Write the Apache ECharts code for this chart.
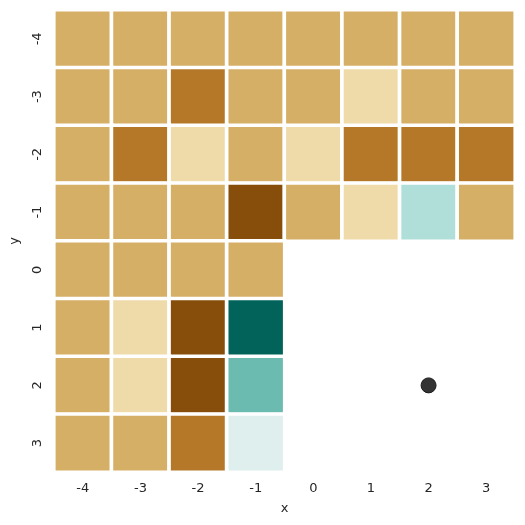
<!DOCTYPE html>
<html>
<head>
<meta charset="utf-8">
<script src="https://cdn.jsdelivr.net/npm/echarts@6/dist/echarts.min.js"></script>
<style>html,body{margin:0;padding:0;background:#fff;}#c{width:525px;height:525px;}</style>
</head>
<body>
<div id="c"></div>
<script>
const xCategories = ['-4','-3','-2','-1','0','1','2','3'];
const yCategories = ['-4','-3','-2','-1','0','1','2','3'];
// rows from y=-4 (top) to y=3 (bottom); null = empty cell
const cellValues = [
  [-2,-2,-2,-2,-2,-2,-2,-2],
  [-2,-2,-3,-2,-2,-1,-2,-2],
  [-2,-3,-1,-2,-1,-3,-3,-3],
  [-2,-2,-2,-4,-2,-1, 2,-2],
  [-2,-2,-2,-2,null,null,null,null],
  [-2,-1,-4, 4,null,null,null,null],
  [-2,-1,-4, 3,null,null,null,null],
  [-2,-2,-3, 1,null,null,null,null]
];
const levelValues = [-4,-3,-2,-1,1,2,3,4];
const levelColors = ['#864e0a','#b47828','#d6af66','#eedba9','#dfefed','#b0dfd9','#6cbbb0','#016359'];
const markerPoint = ['2','2'];

const heatData = [];
cellValues.forEach((row, yi) => {
  row.forEach((v, xi) => {
    if (v !== null) heatData.push([xi, yi, v]);
  });
});

const chart = echarts.init(document.getElementById('c'));
const labelFont = {color:'#262626', fontSize:13, fontFamily:'DejaVu Sans'};
chart.setOption({
  animation:false,
  grid:{left:53, top:10, width:462, height:462},
  xAxis:{
    type:'category', data:xCategories,
    axisLine:{show:false}, axisTick:{show:false}, splitLine:{show:false},
    axisLabel:Object.assign({margin:10}, labelFont),
    name:'x', nameLocation:'middle', nameGap:30,
    nameTextStyle:labelFont
  },
  yAxis:{
    type:'category', data:yCategories, inverse:true,
    axisLine:{show:false}, axisTick:{show:false}, splitLine:{show:false},
    axisLabel:Object.assign({margin:10, rotate:90}, labelFont),
    name:'y', nameLocation:'middle', nameGap:33,
    nameTextStyle:labelFont
  },
  visualMap:{
    type:'piecewise', show:false, seriesIndex:0, dimension:2,
    pieces: levelValues.map((v,i)=>({value:v, color:levelColors[i]}))
  },
  series:[
    {
      type:'heatmap', data:heatData,
      itemStyle:{borderColor:'#ffffff', borderWidth:3.7}
    },
    {
      type:'scatter', data:[markerPoint], symbolSize:15,
      itemStyle:{color:'#333333', borderColor:'#1a1a1a', borderWidth:1, opacity:1},
      z:5
    }
  ]
});
</script>
</body>
</html>
